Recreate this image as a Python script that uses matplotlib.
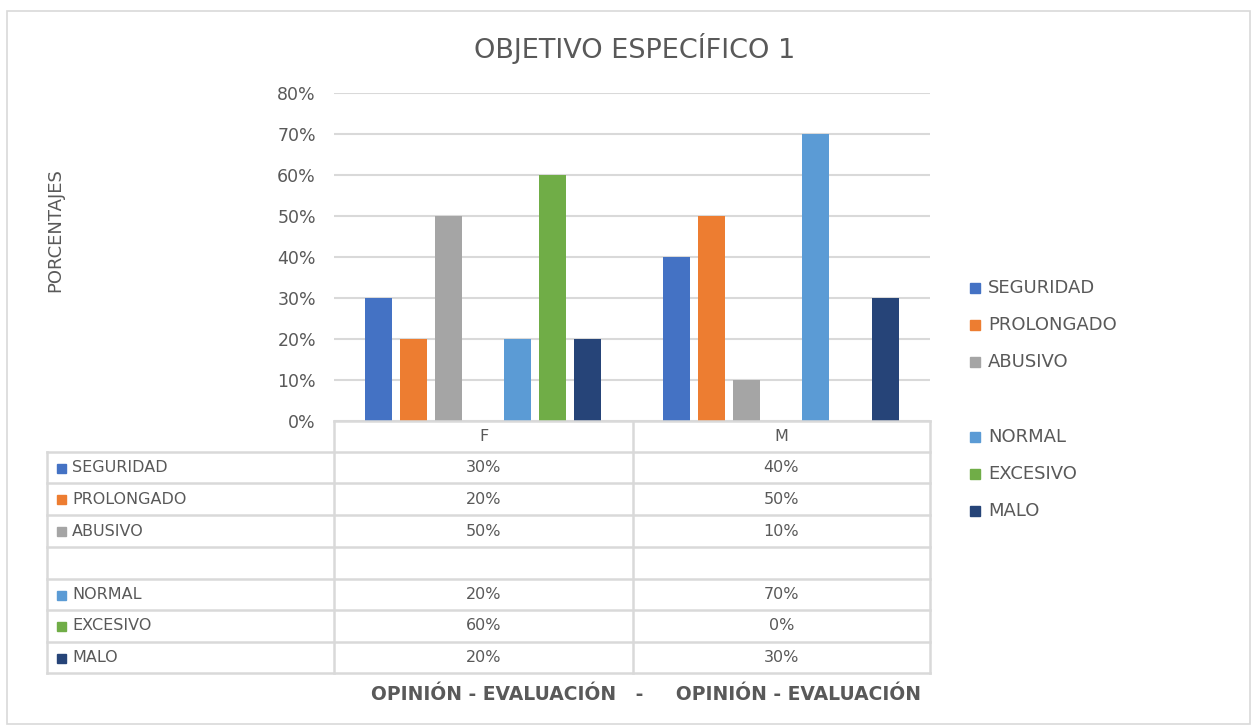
import matplotlib.pyplot as plt
from matplotlib.patches import Rectangle
from matplotlib.lines import Line2D

# data
categories = ["F", "M"]
series = ["SEGURIDAD", "PROLONGADO", "ABUSIVO", "", "NORMAL", "EXCESIVO", "MALO"]
values_f = [0.30, 0.20, 0.50, None, 0.20, 0.60, 0.20]
values_m = [0.40, 0.50, 0.10, None, 0.70, 0.00, 0.30]
colors = ["#4472C4", "#ED7D31", "#A5A5A5", None, "#5B9BD5", "#70AD47", "#264478"]
yticks = [0, 0.1, 0.2, 0.3, 0.4, 0.5, 0.6, 0.7, 0.8]

W, H = 1254, 725
TXT = "#595959"
GRID = "#D9D9D9"
plt.rcParams["font.family"] = ["DejaVu Sans"]


def fx(px):
    return px / W


def fy(py):
    return 1 - py / H


fig = plt.figure(figsize=(W / 100, H / 100), dpi=100)

# plot area
ax = fig.add_axes([fx(334), fy(421), fx(930) - fx(334), fy(93) - fy(421)])
n = len(series)
slot = 244 / 299
bw = 27 / 299
for i, name in enumerate(series):
    if values_f[i] is None:
        continue
    off = -slot / 2 + slot / n * (i + 0.5)
    ax.bar([0 + off, 1 + off], [values_f[i], values_m[i]], width=bw,
           color=colors[i], zorder=3)

ax.set_xlim(-0.5, 1.5)
ax.set_ylim(0, 0.8)
ax.set_yticks(yticks)
ax.set_yticklabels([f"{int(round(t * 100))}%" for t in yticks],
                   color=TXT, fontsize=12.5)
ax.tick_params(axis="y", length=0, pad=13)
ax.set_xticks([])
ax.grid(axis="y", color=GRID, linewidth=1.5, zorder=0)
for s in ax.spines.values():
    s.set_visible(False)

# title and axis labels
fig.text(fx(635), fy(48), "OBJETIVO ESPECÍFICO 1",
         ha="center", va="center", fontsize=19.5, color=TXT)
fig.text(fx(55), fy(230), "PORCENTAJES", rotation=90, ha="center",
         va="center", fontsize=13, color=TXT)
fig.text(fx(646), fy(695), "OPINIÓN - EVALUACIÓN   -     OPINIÓN - EVALUACIÓN",
         ha="center", va="center", fontsize=13.5, fontweight="bold", color=TXT)

# data table
row_edges = [421, 452, 483, 515, 547, 579, 610, 642, 673]
col_edges = [47, 334, 633, 930]


def hline(x0, x1, y):
    fig.add_artist(Line2D([fx(x0), fx(x1)], [fy(y), fy(y)], color=GRID, lw=1.8))


def vline(x, y0, y1):
    fig.add_artist(Line2D([fx(x), fx(x)], [fy(y0), fy(y1)], color=GRID, lw=1.8))


hline(334, 930, row_edges[0])
for y in row_edges[1:]:
    hline(47, 930, y)
vline(47, row_edges[1], row_edges[-1])
for x in col_edges[1:]:
    vline(x, row_edges[0], row_edges[-1])

centers = [(col_edges[1] + col_edges[2]) / 2, (col_edges[2] + col_edges[3]) / 2]
hy = (row_edges[0] + row_edges[1]) / 2
for cx, cat in zip(centers, categories):
    fig.text(fx(cx), fy(hy), cat, ha="center", va="center", fontsize=11.5, color=TXT)

for i, name in enumerate(series):
    ry = (row_edges[i + 1] + row_edges[i + 2]) / 2
    if values_f[i] is None:
        continue
    fig.add_artist(Rectangle((fx(57), fy(ry + 5)), fx(9), 9 / H,
                             color=colors[i], transform=fig.transFigure))
    fig.text(fx(72), fy(ry), name, ha="left", va="center", fontsize=11.5, color=TXT)
    for cx, v in zip(centers, [values_f[i], values_m[i]]):
        fig.text(fx(cx), fy(ry), f"{int(round(v * 100))}%", ha="center",
                 va="center", fontsize=11.5, color=TXT)

# legend
leg_y = 288
for i, name in enumerate(series):
    ly = leg_y + 37.2 * i
    if values_f[i] is None:
        continue
    fig.add_artist(Rectangle((fx(970), fy(ly + 5)), fx(10), 10 / H,
                             color=colors[i], transform=fig.transFigure))
    fig.text(fx(988), fy(ly), name, ha="left", va="center", fontsize=13, color=TXT)

# chart border
fig.add_artist(Rectangle((fx(7), fy(724)), fx(1243), (724 - 11) / H, fill=False,
                         edgecolor=GRID, lw=1.2, transform=fig.transFigure))

fig.savefig("out.png", dpi=100, facecolor="white")
